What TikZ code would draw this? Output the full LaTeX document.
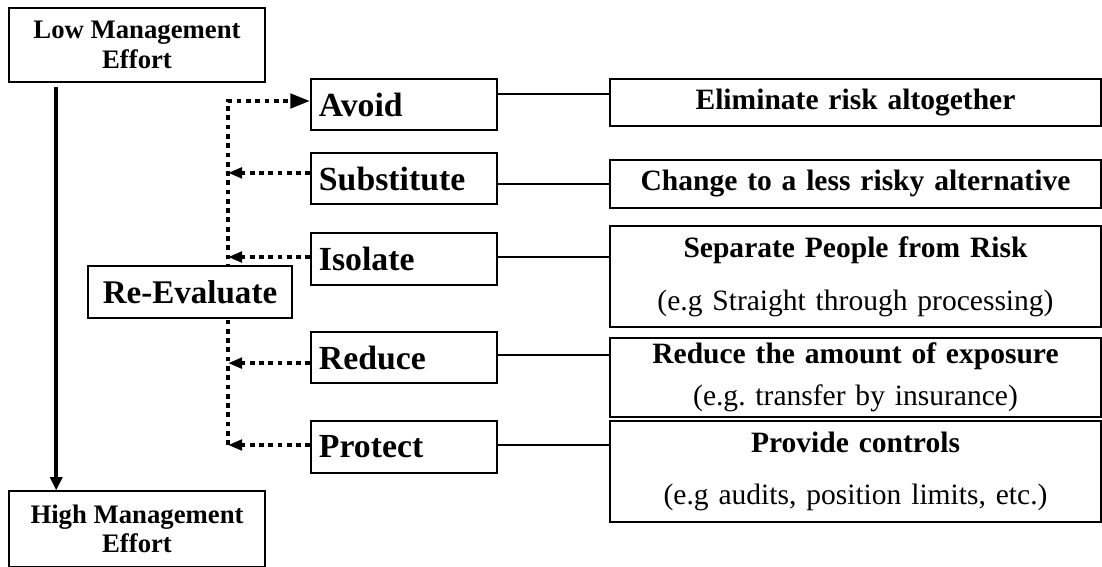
\documentclass[tikz,border=0pt]{standalone}
\usepackage{fontspec}
\setmainfont{Liberation Serif}
\frenchspacing
\usetikzlibrary{arrows.meta,backgrounds}

\begin{document}
\begin{tikzpicture}[x=0.025cm,y=-0.025cm,
    lbox/.style={draw,line width=1pt,fill=white,align=center,minimum width=6.4cm,
        font=\fontsize{19}{21}\selectfont\bfseries},
    optbox/.style={draw,line width=1pt,fill=white,minimum width=4.65cm,minimum height=1.275cm,
        text width=4.25cm,inner xsep=0.2cm,align=left,font=\fontsize{24}{28}\selectfont\bfseries},
    descbox/.style={draw,line width=1pt,fill=white,minimum width=12.275cm,text width=11.8cm,
        align=center,font=\fontsize{21}{25}\selectfont},
    dotline/.style={line width=3.2pt,dash pattern=on 3.4pt off 3.2pt},
    effort/.style={line width=2.5pt,-{Triangle[length=0.33cm,width=0.3cm]}}]
    \useasboundingbox (0,0) rectangle (1102,566);

    % management effort scale
    \node[lbox,minimum height=1.85cm] (low) at (137,45) {Low Management\\Effort};
    \node[lbox,minimum height=1.9cm] (high) at (137,529) {High Management\\Effort};
    \draw[effort] ([xshift=34.1pt,yshift=-3pt]low.south west) -- ([xshift=34.1pt]high.north west);

    % options
    \node[optbox] (avoid) at (404,104.5) {Avoid};
    \node[optbox] (subst) at (404,178.5) {Substitute};
    \node[optbox,minimum height=1.3cm] (iso) at (404,259) {Isolate};
    \node[optbox] (red) at (404,357.5) {Reduce};
    \node[optbox,minimum height=1.3cm] (prot) at (404,447) {Protect};
    \node[draw,line width=1pt,fill=white,minimum width=5.1cm,minimum height=1.3cm,
        font=\fontsize{23.5}{28}\selectfont\bfseries] (reeval) at (190,292) {Re-Evaluate};

    % descriptions
    \node[descbox,minimum height=1.175cm] (elim) at (855.5,102.5) {\textbf{Eliminate risk altogether}};
    \node[descbox,minimum height=1.2cm] (chg) at (855.5,184) {\textbf{Change to a less risky alternative}};
    \node[descbox,minimum height=2.525cm] (sep) at (855.5,276.5)
        {\textbf{Separate People from Risk}\\[12.7pt](e.g Straight through processing)};
    \node[descbox,minimum height=1.925cm] (expo) at (855.5,377.5)
        {\textbf{Reduce the amount of exposure}\\[5pt](e.g. transfer by insurance)};
    \node[descbox,minimum height=2.525cm] (ctrl) at (855.5,471.5)
        {\textbf{Provide controls}\\[12pt](e.g audits, position limits, etc.)};

    \coordinate (trunkTop) at (228,101);
    \coordinate (trunkBot) at (228,445);

    \begin{scope}[on background layer]
        % re-evaluate loop
        \draw[dotline,-{Triangle[length=0.5cm,width=0.35cm]}] (trunkBot) -- (trunkTop) -- (trunkTop -| avoid.west);
        \draw[dotline,-{Triangle[length=0.35cm,width=0.26cm]}] ([yshift=4pt]subst.west) -- ([yshift=4pt]subst.west -| trunkTop);
        \draw[dotline,-{Triangle[length=0.35cm,width=0.26cm]}] ([yshift=1.4pt]iso.west) -- ([yshift=1.4pt]iso.west -| trunkTop);
        \draw[dotline,-{Triangle[length=0.35cm,width=0.26cm]}] ([yshift=-4pt]red.west) -- ([yshift=-4pt]red.west -| trunkTop);
        \draw[dotline,-{Triangle[length=0.35cm,width=0.26cm]}] (prot.west |- trunkBot) -- (trunkBot);

        % option to description
        \draw[line width=1pt] ([yshift=7.5pt]avoid.east) -- ([yshift=7.5pt]avoid.east -| elim.west);
        \draw[line width=1pt] (chg.west -| subst.east) -- (chg.west);
        \draw[line width=1pt] ([yshift=1.4pt]iso.east) -- ([yshift=1.4pt]iso.east -| sep.west);
        \draw[line width=1pt] ([yshift=1.8pt]red.east) -- ([yshift=1.8pt]red.east -| expo.west);
        \draw[line width=1pt] (prot.east |- trunkBot) -- (trunkBot -| ctrl.west);
    \end{scope}
\end{tikzpicture}
\end{document}
